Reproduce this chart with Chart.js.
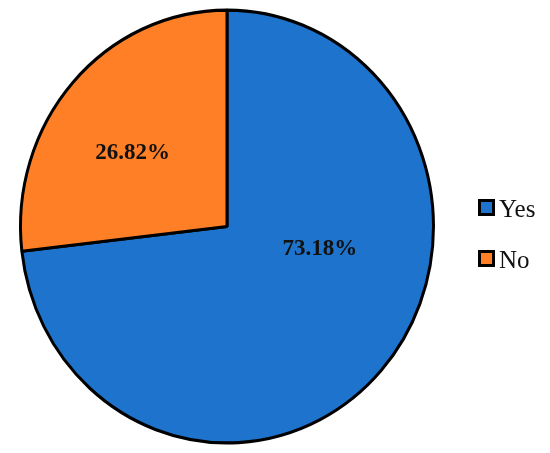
<!DOCTYPE html>
<html>
<head>
<meta charset="utf-8">
<script src="https://cdn.jsdelivr.net/npm/chart.js@4/dist/chart.umd.min.js"></script>
<style>
  html, body { margin: 0; padding: 0; background: #ffffff; }
  #wrap { width: 550px; height: 453px; position: relative; }
</style>
</head>
<body>
<div id="wrap"><canvas id="c" width="550" height="453"></canvas></div>
<script>
const categories = ["Yes", "No"];
const values = [73.18, 26.82];
const valueLabels = ["73.18%", "26.82%"];
const colors = ["#1e73cc", "#ff7f27"];

// label offsets relative to pie centre, in radius units (x, y)
const labelOffsets = [[0.45, 0.105], [-0.457, -0.339]];
const yStretch = 1.048;

const stretchPlugin = {
  id: 'stretch',
  beforeDatasetsDraw(chart) {
    const meta = chart.getDatasetMeta(0);
    const arc = meta.data[0];
    const ctx = chart.ctx;
    ctx.save();
    ctx.translate(arc.x, arc.y);
    ctx.scale(1, yStretch);
    ctx.translate(-arc.x, -arc.y);
  },
  afterDatasetsDraw(chart) {
    const ctx = chart.ctx;
    ctx.restore();
    const meta = chart.getDatasetMeta(0);
    ctx.save();
    ctx.font = 'bold 23px "Liberation Serif", serif';
    ctx.fillStyle = '#111111';
    ctx.textAlign = 'center';
    ctx.textBaseline = 'middle';
    meta.data.forEach((a, i) => {
      const r = a.outerRadius;
      const x = a.x + labelOffsets[i][0] * r;
      const y = a.y + labelOffsets[i][1] * r * yStretch;
      ctx.fillText(valueLabels[i], x, y);
    });
    ctx.restore();
  },
  afterDraw(chart) {
    const ctx = chart.ctx;
    ctx.save();
    const boxX = 479.5, boxSize = 14;
    const rows = [207.5, 258.5];
    ctx.font = '25px "Liberation Serif", serif';
    ctx.textBaseline = 'alphabetic';
    ctx.textAlign = 'left';
    categories.forEach((c, i) => {
      const cy = rows[i];
      ctx.fillStyle = colors[i];
      ctx.fillRect(boxX, cy - boxSize / 2, boxSize, boxSize);
      ctx.lineWidth = 3;
      ctx.strokeStyle = '#000000';
      ctx.strokeRect(boxX, cy - boxSize / 2, boxSize, boxSize);
      ctx.fillStyle = '#111111';
      ctx.fillText(c, 499, cy + 9);
    });
    ctx.restore();
  }
};

new Chart(document.getElementById('c'), {
  type: 'pie',
  data: {
    labels: categories,
    datasets: [{
      data: values,
      backgroundColor: colors,
      borderColor: '#000000',
      borderWidth: 3,
      radius: 206.5
    }]
  },
  options: {
    responsive: false,
    animation: false,
    layout: { padding: { left: 0, right: 96, top: 0, bottom: 0 } },
    plugins: {
      legend: { display: false },
      tooltip: { enabled: false }
    }
  },
  plugins: [stretchPlugin]
});
</script>
</body>
</html>
